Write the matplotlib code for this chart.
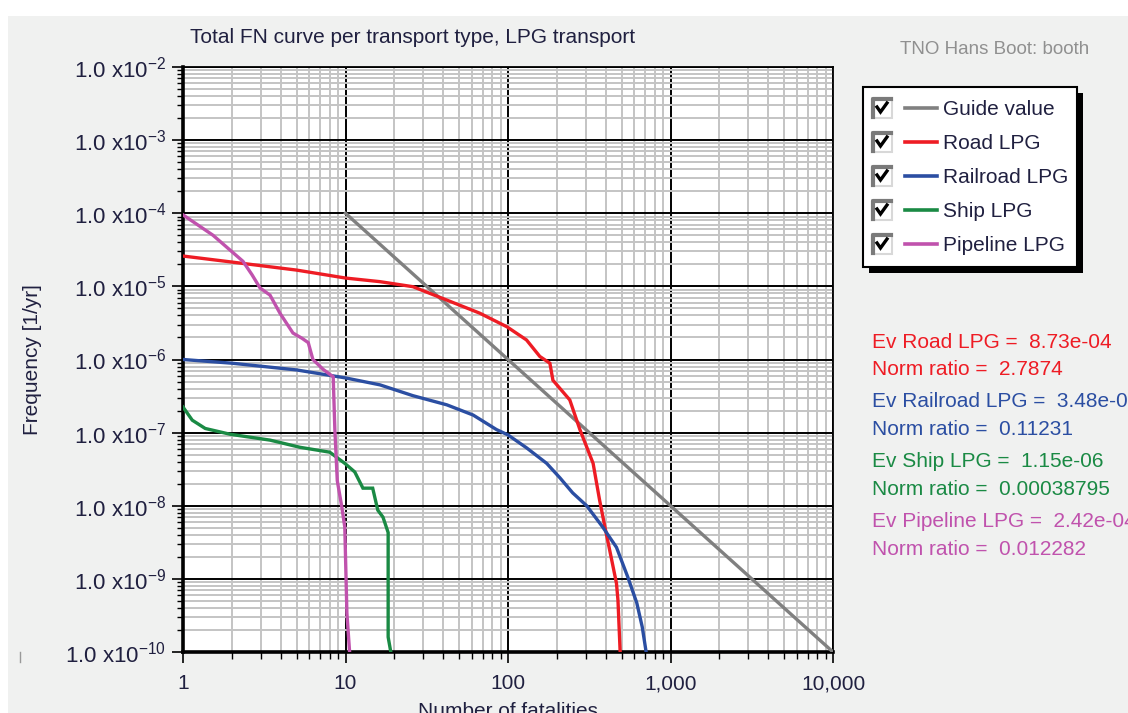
import numpy as np
import matplotlib
matplotlib.use("Agg")
import matplotlib.pyplot as plt
from matplotlib.patches import Rectangle
from matplotlib.ticker import LogLocator, NullFormatter

plt.rcParams['font.family'] = ['Liberation Sans', 'DejaVu Sans']
plt.rcParams['mathtext.fontset'] = 'custom'
plt.rcParams['mathtext.rm'] = 'Liberation Sans'
plt.rcParams['mathtext.it'] = 'Liberation Sans:italic'

# === data ===
guide_n = [10, 10000]
guide_f = [1e-4, 1e-10]

road_n = [1, 2, 5, 10, 16.3, 26, 42, 67, 98.5, 130, 157, 181, 189, 240, 277, 334,
          366, 395, 435, 465, 475, 490]
road_f = [2.6e-5, 2.15e-5, 1.67e-5, 1.3e-5, 1.16e-5, 9.9e-6, 6.5e-6, 4.3e-6, 2.8e-6,
          1.85e-6, 1.1e-6, 8.9e-7, 5.2e-7, 2.8e-7, 1.1e-7, 3.8e-8, 1.2e-8, 5.1e-9,
          1.8e-9, 8.7e-10, 5.1e-10, 1e-10]

rail_n = [1, 2, 5, 10, 16.3, 26, 42, 61, 85, 100, 130, 173, 209, 250, 305, 383, 465,
          545, 620, 670, 708]
rail_f = [1e-6, 8.9e-7, 7.2e-7, 5.6e-7, 4.5e-7, 3.2e-7, 2.4e-7, 1.74e-7, 1.1e-7,
          9.3e-8, 6.2e-8, 3.8e-8, 2.4e-8, 1.5e-8, 1.0e-8, 5.1e-9, 2.7e-9, 1.07e-9,
          4.7e-10, 2.2e-10, 1e-10]

ship_n = [1, 1.14, 1.37, 1.95, 3.43, 5.25, 8.0, 9.9, 11.4, 12.8, 14.7, 15.8, 17.0,
          18.3, 18.3, 19.0]
ship_f = [2.24e-7, 1.48e-7, 1.14e-7, 9.5e-8, 7.9e-8, 6.3e-8, 5.4e-8, 3.8e-8, 2.9e-8,
          1.74e-8, 1.74e-8, 8.7e-9, 7.0e-9, 4.3e-9, 1.6e-10, 1e-10]

pipe_n = [1, 1.53, 2.34, 2.66, 2.98, 3.43, 3.95, 4.75, 5.4, 5.9, 6.3, 7.3, 8.4, 8.6,
          8.9, 9.5, 9.9, 10.2, 10.6]
pipe_f = [9.5e-5, 5e-5, 2.2e-5, 1.44e-5, 9.5e-6, 7.6e-6, 4.3e-6, 2.3e-6, 1.95e-6,
          1.7e-6, 1e-6, 7.3e-7, 5.8e-7, 1.1e-7, 2.2e-8, 9.5e-9, 5.1e-9, 3.4e-10, 1e-10]

series_names = ["Guide value", "Road LPG", "Railroad LPG", "Ship LPG", "Pipeline LPG"]
series_colors = ["#808080", "#ee1c24", "#2b4ea2", "#1a8a44", "#c052ad"]
series_n = [guide_n, road_n, rail_n, ship_n, pipe_n]
series_f = [guide_f, road_f, rail_f, ship_f, pipe_f]

ev_values = ["8.73e-04", "3.48e-07", "1.15e-06", "2.42e-04"]
norm_ratios = ["2.7874", "0.11231", "0.00038795", "0.012282"]

x_ticks = [1, 10, 100, 1000, 10000]
x_labels = ["1", "10", "100", "1,000", "10,000"]
y_exps = list(range(-10, -1))

# === figure ===
W, H = 1128, 713
fig = plt.figure(figsize=(W / 100, H / 100), dpi=100, facecolor="white")

# overlay in pixel coords for panel, legend and notes
ov = fig.add_axes([0, 0, 1, 1], zorder=-1)
ov.set_xlim(0, W)
ov.set_ylim(H, 0)
ov.axis("off")
ov.add_patch(Rectangle((8, 16), W - 8, H - 16, facecolor="#f0f1f0", edgecolor="none"))

ax = fig.add_axes([183 / W, 61 / H, 650 / W, 585 / H])
ax.set_facecolor("white")
ax.set_xscale("log")
ax.set_yscale("log")
ax.set_xlim(1, 10000)
ax.set_ylim(1e-10, 1e-2)

for n, f, c in zip(series_n, series_f, series_colors):
    ax.plot(n, f, color=c, lw=2.4, solid_joinstyle="miter", zorder=3)

ax.set_xticks(x_ticks, x_labels)
ax.xaxis.set_minor_locator(LogLocator(base=10, subs=np.arange(2, 10), numticks=100))
ax.xaxis.set_minor_formatter(NullFormatter())
ax.set_yticks([10.0 ** e for e in y_exps],
              [r"1.0 x10$^{%d}$" % e for e in y_exps])
ax.yaxis.set_minor_locator(LogLocator(base=10, subs=np.arange(2, 10), numticks=100))
ax.yaxis.set_minor_formatter(NullFormatter())

ax.grid(True, which="minor", color="#c4c4c4", lw=1.4, zorder=1)
ax.grid(True, which="major", color="black", lw=1.4, zorder=2)
ax.set_axisbelow(True)

ax.tick_params(axis="y", which="major", length=8, width=1.2, pad=4,
               labelsize=16, labelcolor="#202040")
ax.tick_params(axis="y", which="minor", length=4, width=1.0)
ax.tick_params(axis="x", which="major", length=8, width=1.2, pad=8,
               labelsize=15, labelcolor="#202040")
ax.tick_params(axis="x", which="minor", length=5, width=1.0)
for s in ["left", "bottom"]:
    ax.spines[s].set_linewidth(2.6)
for s in ["top", "right"]:
    ax.spines[s].set_linewidth(1.3)

ax.set_xlabel("Number of fatalities", fontsize=15, color="#202040", labelpad=6)
fig.text(33 / W, 1 - 360 / H, "Frequency [1/yr]", rotation=90, ha="center",
         va="center", fontsize=15, color="#202040")
fig.text(190 / W, 1 - 43 / H, "Total FN curve per transport type, LPG transport",
         fontsize=15, color="#202040", va="baseline")
fig.text(900 / W, 1 - 54 / H, "TNO Hans Boot: booth", fontsize=13.5,
         color="#909090", va="baseline")
ov.plot([20, 20], [652, 662], color="#999999", lw=1)

# legend box with checkboxes
ov.add_patch(Rectangle((869, 93), 214, 180, facecolor="black", edgecolor="none", zorder=1))
ov.add_patch(Rectangle((863, 87), 214, 180, facecolor="white", edgecolor="black",
                       lw=1.5, zorder=2))
for i, (name, c) in enumerate(zip(series_names, series_colors)):
    yc = 108 + i * 34
    ov.add_patch(Rectangle((872, yc - 10), 20, 20, facecolor="white",
                           edgecolor="#d8d8d8", lw=1.5, zorder=3))
    ov.plot([873, 873, 891], [yc + 9, yc - 9, yc - 9], color="#7a7a7a", lw=3, zorder=4)
    ov.plot([877, 880.5, 887], [yc - 1, yc + 4, yc - 5], color="black", lw=2.4,
            solid_joinstyle="miter", zorder=5)
    ov.plot([905, 937], [yc, yc], color=c, lw=2.6, zorder=4)
    ov.text(943, yc + 7, name, fontsize=15, color="#202040", va="baseline", zorder=5)

# expected value notes
baselines = [348, 375, 407, 435, 467, 495, 527, 555]
for i, (name, c) in enumerate(zip(series_names[1:], series_colors[1:])):
    ov.text(872, baselines[2 * i], "Ev %s =  %s" % (name, ev_values[i]),
            fontsize=15, color=c, va="baseline", clip_on=False)
    ov.text(872, baselines[2 * i + 1], "Norm ratio =  %s" % norm_ratios[i],
            fontsize=15, color=c, va="baseline", clip_on=False)

fig.savefig("out.png", dpi=100, facecolor=fig.get_facecolor())
